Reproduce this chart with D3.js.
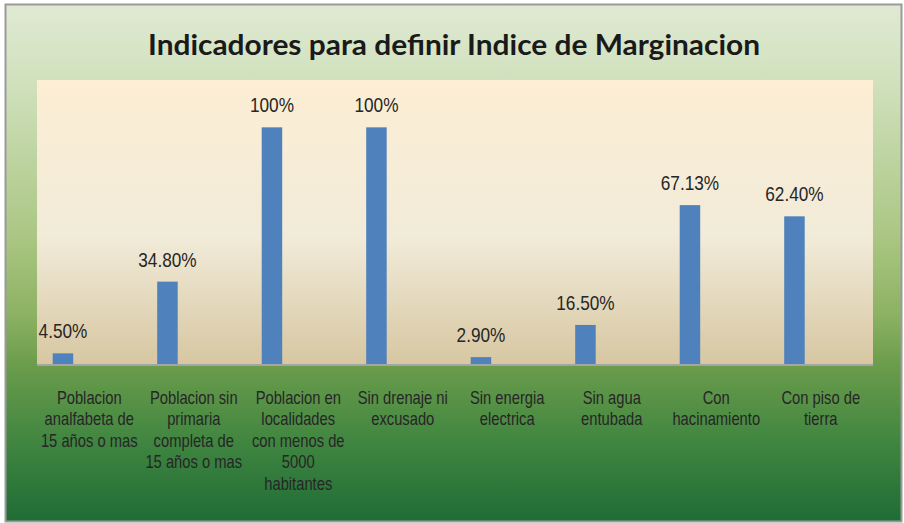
<!DOCTYPE html>
<html>
<head>
<meta charset="utf-8">
<script src="https://cdn.jsdelivr.net/npm/d3@7"></script>
<style>
  body { margin: 0; background: white; }
</style>
</head>
<body>
<div id="chart"></div>
<script>
let width = 904, height = 523;

// data
let categories = [
  'Poblacion analfabeta de 15 años o mas',
  'Poblacion sin primaria completa de 15 años o mas',
  'Poblacion en localidades con menos de 5000 habitantes',
  'Sin drenaje ni excusado',
  'Sin energia electrica',
  'Sin agua entubada',
  'Con hacinamiento',
  'Con piso de tierra'
];
let categoryLines = [
  ['Poblacion', 'analfabeta de', '15 años o mas'],
  ['Poblacion sin', 'primaria', 'completa de', '15 años o mas'],
  ['Poblacion en', 'localidades', 'con menos de', '5000', 'habitantes'],
  ['Sin drenaje ni', 'excusado'],
  ['Sin energia', 'electrica'],
  ['Sin agua', 'entubada'],
  ['Con', 'hacinamiento'],
  ['Con piso de', 'tierra']
];
let values = [0.045, 0.348, 1.0, 1.0, 0.029, 0.165, 0.6713, 0.624];
let valueLabels = ['4.50%', '34.80%', '100%', '100%', '2.90%', '16.50%', '67.13%', '62.40%'];

let plot = { left: 37, right: 873, top: 80, bottom: 364 };

let svg = d3.select('#chart')
  .append('svg')
  .attr('width', width)
  .attr('height', height);

let defs = svg.append('defs');

let outerGrad = defs.append('linearGradient')
  .attr('id', 'outerGrad')
  .attr('x1', 0).attr('y1', 0).attr('x2', 0).attr('y2', 1);
[[0, '#e0ead3'], [0.15, '#d0e1bd'], [0.45, '#abc683'], [0.6, '#8cb262'], [0.7, '#6a9c4b'], [0.85, '#3f8540'], [1, '#1f6c36']]
  .forEach(s => outerGrad.append('stop').attr('offset', s[0]).attr('stop-color', s[1]));

let plotGrad = defs.append('linearGradient')
  .attr('id', 'plotGrad')
  .attr('x1', 0).attr('y1', 0).attr('x2', 0).attr('y2', 1);
[[0, '#fdeed4'], [0.55, '#f1ebd9'], [1, '#d7c7a2']]
  .forEach(s => plotGrad.append('stop').attr('offset', s[0]).attr('stop-color', s[1]));

// outer frame
svg.append('rect')
  .attr('x', 5.5).attr('y', 4.5)
  .attr('width', 896).attr('height', 517)
  .attr('fill', 'url(#outerGrad)')
  .attr('stroke', '#9a9a9a')
  .attr('stroke-width', 2);

// plot area
svg.append('rect')
  .attr('x', plot.left).attr('y', plot.top)
  .attr('width', plot.right - plot.left)
  .attr('height', plot.bottom - plot.top)
  .attr('fill', 'url(#plotGrad)');

let xscale = d3.scaleBand()
  .domain(categories)
  .range([plot.left, plot.right]);

let yscale = d3.scaleLinear()
  .domain([0, 1.2])
  .range([plot.bottom, plot.top]);

let barWidth = 20.5;
let barOffset = 15.7;

svg.selectAll('rect.bar')
  .data(values)
  .enter()
  .append('rect')
  .attr('class', 'bar')
  .attr('x', (d, i) => xscale(categories[i]) + barOffset)
  .attr('y', d => yscale(d))
  .attr('width', barWidth)
  .attr('height', d => plot.bottom - yscale(d))
  .attr('fill', '#4f81bd');

// axis line
svg.append('line')
  .attr('x1', plot.left).attr('x2', plot.right)
  .attr('y1', plot.bottom + 1).attr('y2', plot.bottom + 1)
  .attr('stroke', '#a5a5a5')
  .attr('stroke-width', 2);

// no narrow font installed, so squeeze Liberation Sans horizontally
let font = '"Liberation Sans", Arial, sans-serif';
let squeeze = 0.82;

// value labels
svg.selectAll('text.val')
  .data(values)
  .enter()
  .append('text')
  .attr('class', 'val')
  .attr('transform', (d, i) =>
    `translate(${xscale(categories[i]) + barOffset + barWidth / 2}, ${yscale(d) - 15}) scale(${squeeze}, 1)`)
  .attr('text-anchor', 'middle')
  .style('font-family', font)
  .style('font-size', '21px')
  .style('fill', '#262626')
  .text((d, i) => valueLabels[i]);

// category labels
let catText = svg.selectAll('text.cat')
  .data(categories)
  .enter()
  .append('text')
  .attr('class', 'cat')
  .attr('transform', d => `translate(${xscale(d) + xscale.bandwidth() / 2}, 404) scale(${squeeze}, 1)`)
  .attr('text-anchor', 'middle')
  .style('font-family', font)
  .style('font-size', '18px')
  .style('fill', '#262626');

catText.each(function(d, i) {
  d3.select(this).selectAll('tspan')
    .data(categoryLines[i])
    .enter()
    .append('tspan')
    .attr('x', 0)
    .attr('dy', (t, j) => j === 0 ? 0 : 21.5)
    .text(t => t);
});

// title
svg.append('text')
  .text('Indicadores para definir Indice de Marginacion')
  .attr('x', 454)
  .attr('y', 55)
  .attr('text-anchor', 'middle')
  .attr('textLength', 612)
  .attr('lengthAdjust', 'spacingAndGlyphs')
  .style('font-family', 'Lato, "Open Sans", sans-serif')
  .style('font-weight', 'bold')
  .style('font-size', '29px')
  .style('fill', '#1a1a1a');
</script>
</body>
</html>
